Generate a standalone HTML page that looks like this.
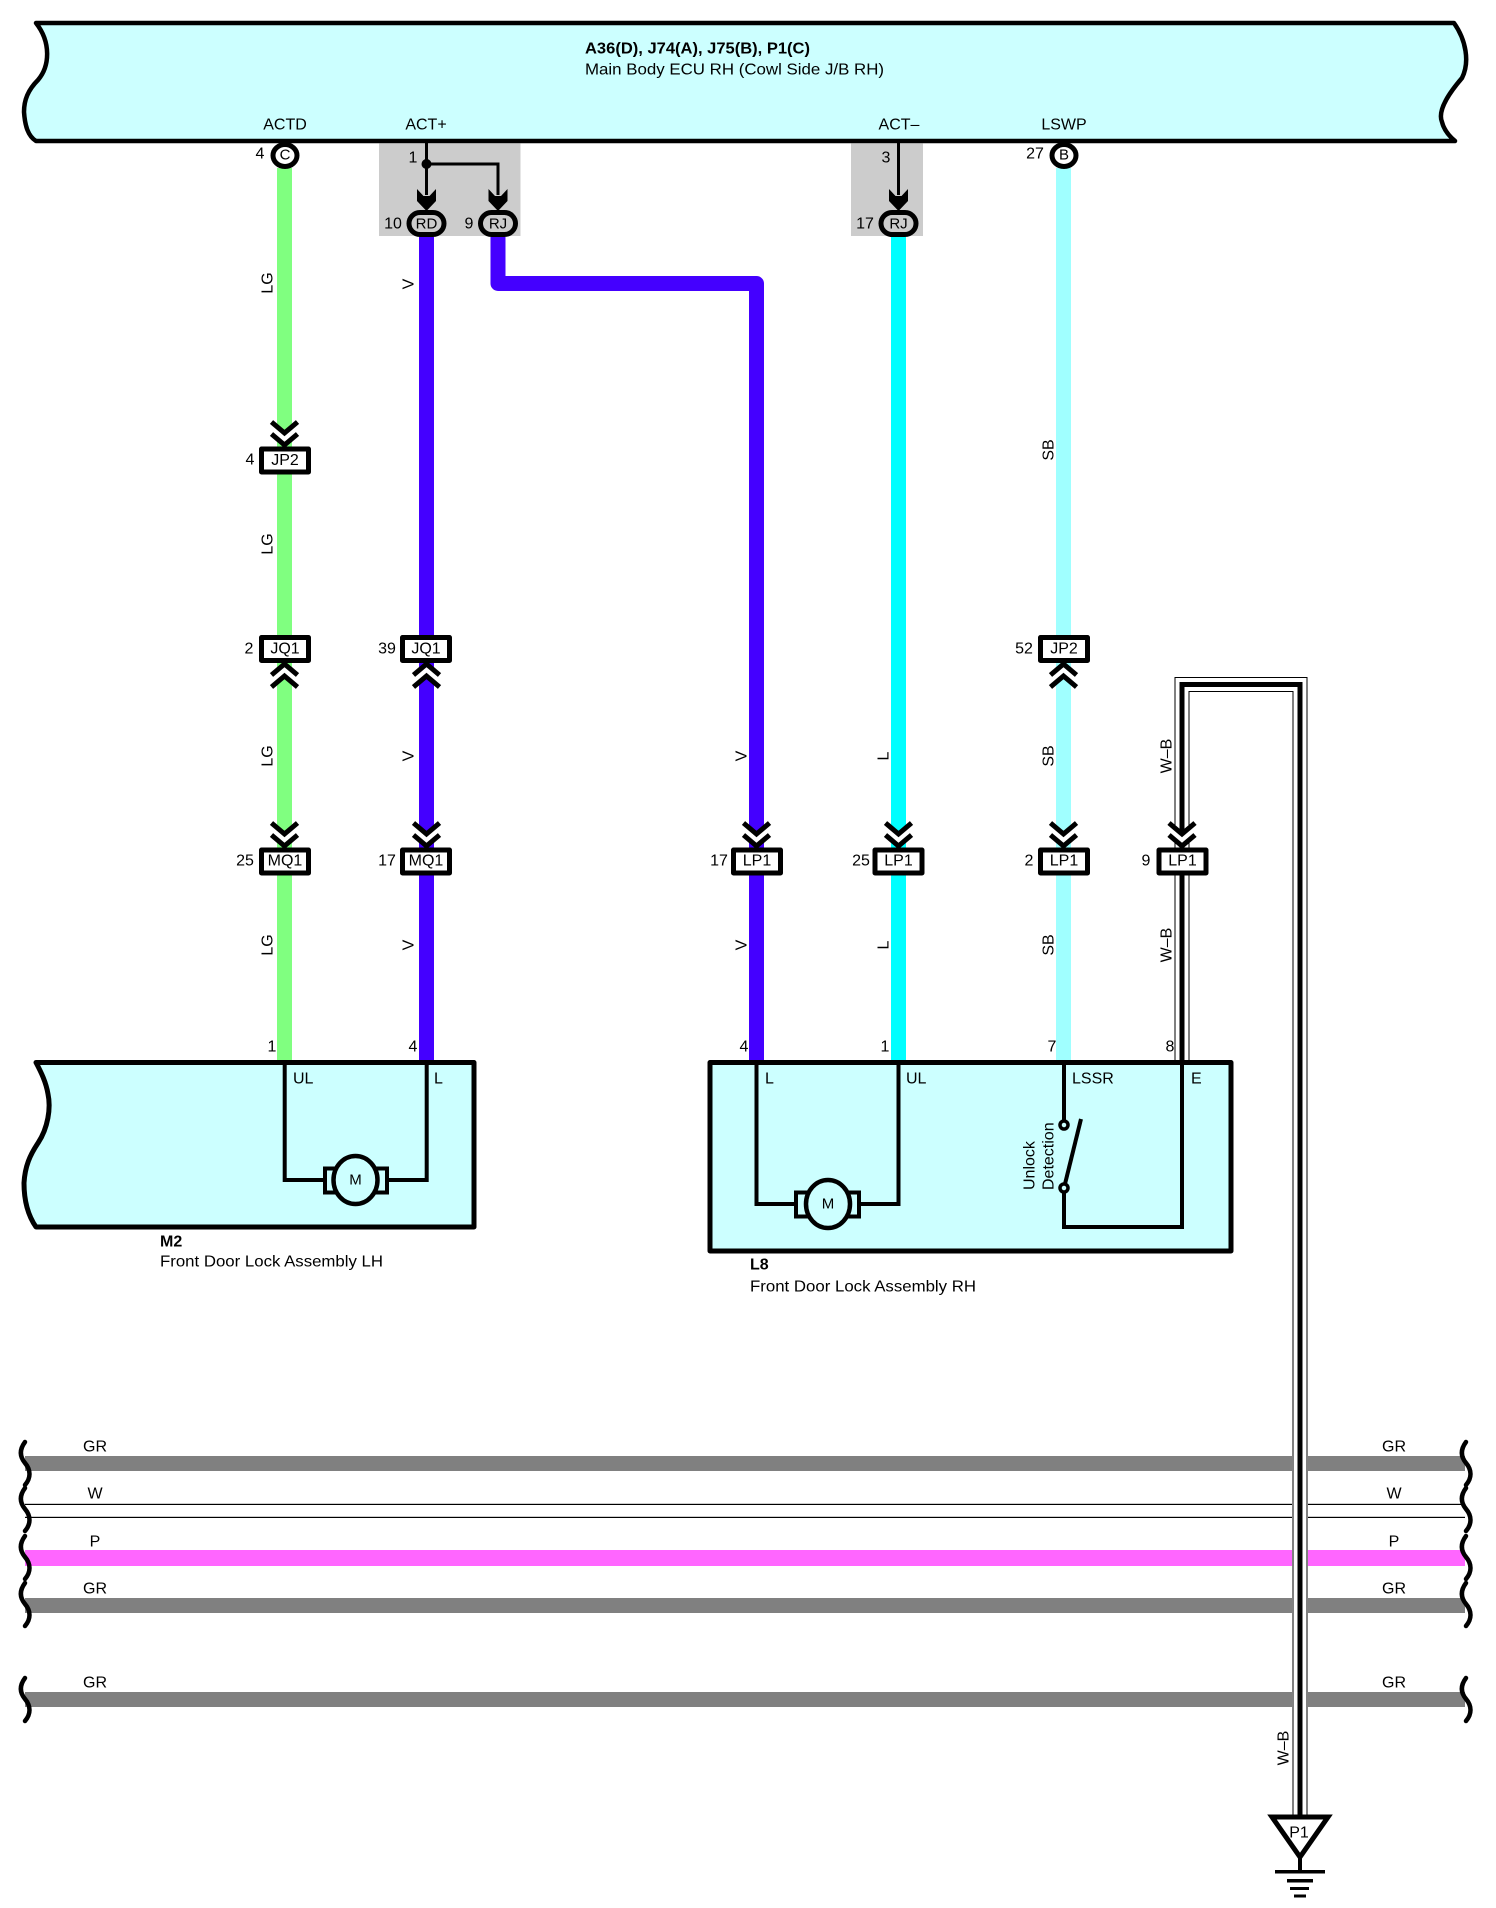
<!DOCTYPE html>
<html>
<head>
<meta charset="utf-8">
<style>
html,body{margin:0;padding:0;background:#fff}
svg{display:block}
text{font-family:"Liberation Sans",Arial,sans-serif;font-size:16px;fill:#000;dominant-baseline:central}
.m{text-anchor:middle}
.box{fill:#fff;stroke:#000;stroke-width:5;stroke-linejoin:round}
.w{fill:none;stroke:#000;stroke-width:4}
</style>
</head>
<body>
<svg xmlns="http://www.w3.org/2000/svg" width="1496" height="1908" viewBox="0 0 1496 1908">
<defs>
<g id="dn">
<polygon points="-13,-22 0,-11 13,-22 13,-11 0,0 -13,-11" fill="#fff"/>
<polyline points="-13,-24 0,-13 13,-24" fill="none" stroke="#000" stroke-width="5"/>
<polyline points="-13,-12 0,-1 13,-12" fill="none" stroke="#000" stroke-width="5"/>
</g>
<g id="up">
<polygon points="-13,22 0,11 13,22 13,11 0,0 -13,11" fill="#fff"/>
<polyline points="-13,24 0,13 13,24" fill="none" stroke="#000" stroke-width="5"/>
<polyline points="-13,12 0,1 13,12" fill="none" stroke="#000" stroke-width="5"/>
</g>
<polygon id="ar" points="-9.5,189 -3,196 3,196 9.5,189 9.5,201 0,211 -9.5,201" fill="#000"/>
<path id="br" d="M25 1442C19 1450 20 1457 25 1463C31 1470 31 1478 25 1485" fill="none" stroke="#000" stroke-width="4.5" stroke-linecap="round"/>
</defs>

<!-- ECU -->
<path d="M36 23H1454C1466 40 1470 62 1462 78C1450 92 1437 110 1442 122C1444 130 1449 136 1455 141H36C28 136 25 126 24 112C24 100 28 90 38 80C50 66 51 42 36 23Z" fill="#ccffff" stroke="#000" stroke-width="4.5" stroke-linejoin="round"/>
<text x="585" y="49" textLength="225" lengthAdjust="spacingAndGlyphs" style="font-weight:bold">A36(D), J74(A), J75(B), P1(C)</text>
<text x="585" y="70" textLength="299" lengthAdjust="spacingAndGlyphs">Main Body ECU RH (Cowl Side J/B RH)</text>
<text class="m" x="285" y="125">ACTD</text>
<text class="m" x="426" y="125">ACT+</text>
<text class="m" x="899" y="125">ACT–</text>
<text class="m" x="1064" y="125">LSWP</text>

<!-- grey boxes -->
<rect x="379" y="143.5" width="141.5" height="92.5" fill="#cccccc"/>
<rect x="851" y="143.5" width="72" height="92.5" fill="#cccccc"/>

<!-- vertical coloured wires -->
<rect x="277" y="168" width="15" height="894" fill="#80ff80"/>
<rect x="419" y="237" width="15" height="825" fill="#4400ff"/>
<path d="M498 237V283.5H756.5V1062" fill="none" stroke="#4400ff" stroke-width="15" stroke-linejoin="round"/>
<rect x="891" y="237" width="15" height="825" fill="#00ffff"/>
<rect x="1056" y="168" width="15" height="894" fill="#a0ffff"/>

<!-- horizontal wires -->
<rect x="25" y="1456" width="1267" height="15" fill="#808080"/>
<rect x="1308" y="1456" width="157" height="15" fill="#808080"/>
<rect x="25" y="1503.8" width="1267" height="1.2" fill="#000"/>
<rect x="1308" y="1503.8" width="157" height="1.2" fill="#000"/>
<rect x="25" y="1516.8" width="1267" height="1.2" fill="#000"/>
<rect x="1308" y="1516.8" width="157" height="1.2" fill="#000"/>
<rect x="25" y="1550" width="1267" height="16" fill="#ff66ff"/>
<rect x="1308" y="1550" width="157" height="16" fill="#ff66ff"/>
<rect x="25" y="1598" width="1267" height="15" fill="#808080"/>
<rect x="1308" y="1598" width="157" height="15" fill="#808080"/>
<rect x="25" y="1692" width="1267" height="15" fill="#808080"/>
<rect x="1308" y="1692" width="157" height="15" fill="#808080"/>

<!-- braces left -->
<use href="#br"/>
<use href="#br" y="46"/>
<use href="#br" y="94"/>
<use href="#br" y="141"/>
<use href="#br" y="236"/>
<!-- braces right -->
<use href="#br" x="1441"/>
<use href="#br" x="1441" y="46"/>
<use href="#br" x="1441" y="94"/>
<use href="#br" x="1441" y="141"/>
<use href="#br" x="1441" y="236"/>

<text class="m" x="95" y="1447">GR</text>
<text class="m" x="95" y="1494">W</text>
<text class="m" x="95" y="1542">P</text>
<text class="m" x="95" y="1589">GR</text>
<text class="m" x="95" y="1683">GR</text>
<text class="m" x="1394" y="1447">GR</text>
<text class="m" x="1394" y="1494">W</text>
<text class="m" x="1394" y="1542">P</text>
<text class="m" x="1394" y="1589">GR</text>
<text class="m" x="1394" y="1683">GR</text>

<!-- W-B shielded wire -->
<path d="M1182 1062V684.5H1300V1817" fill="none" stroke="#000" stroke-width="15"/>
<path d="M1182 1062V684.5H1300V1817" fill="none" stroke="#fff" stroke-width="13"/>
<path d="M1182 1062V684.5H1300V1817" fill="none" stroke="#000" stroke-width="5"/>

<!-- ground P1 -->
<polygon points="1272,1817 1328,1817 1300,1857" fill="#fff" stroke="#000" stroke-width="5" stroke-linejoin="miter"/>
<text class="m" x="1299" y="1833">P1</text>
<rect x="1298" y="1858" width="4" height="14" fill="#000"/>
<rect x="1275" y="1870" width="50" height="3.5" fill="#000"/>
<rect x="1287" y="1879" width="26" height="3.5" fill="#000"/>
<rect x="1290" y="1887" width="19" height="3" fill="#000"/>
<rect x="1294" y="1894.5" width="12" height="3" fill="#000"/>

<!-- pins -->
<ellipse cx="285" cy="155.5" rx="12" ry="11" fill="#fff" stroke="#000" stroke-width="5"/>
<text class="m" x="285" y="155" style="font-size:15px">C</text>
<text class="m" x="260" y="154">4</text>
<ellipse cx="1064" cy="155.5" rx="12" ry="11" fill="#fff" stroke="#000" stroke-width="5"/>
<text class="m" x="1064" y="155" style="font-size:15px">B</text>
<text class="m" x="1035" y="154">27</text>

<!-- ACT+ internal -->
<path d="M426.5 143V195M426.5 164H498V195" fill="none" stroke="#000" stroke-width="3"/>
<circle cx="426.5" cy="164" r="5" fill="#000"/>
<use href="#ar" x="426.5"/>
<use href="#ar" x="498"/>
<text class="m" x="413" y="158">1</text>
<rect x="409" y="212.5" width="35" height="22" rx="11" fill="#cccccc" stroke="#000" stroke-width="5"/>
<text class="m" x="426.5" y="224" style="font-size:15px">RD</text>
<text class="m" x="393" y="224">10</text>
<rect x="480.5" y="212.5" width="35" height="22" rx="11" fill="#cccccc" stroke="#000" stroke-width="5"/>
<text class="m" x="498" y="224" style="font-size:15px">RJ</text>
<text class="m" x="469" y="224">9</text>

<!-- ACT- internal -->
<path d="M898.5 143V195" fill="none" stroke="#000" stroke-width="3"/>
<use href="#ar" x="898.5"/>
<text class="m" x="886" y="158">3</text>
<rect x="881" y="212.5" width="35" height="22" rx="11" fill="#cccccc" stroke="#000" stroke-width="5"/>
<text class="m" x="898.5" y="224" style="font-size:15px">RJ</text>
<text class="m" x="865" y="224">17</text>

<!-- chevrons -->
<use href="#dn" x="284.5" y="446"/>
<use href="#up" x="284.5" y="663"/>
<use href="#up" x="426.5" y="663"/>
<use href="#up" x="1063.5" y="663"/>
<use href="#dn" x="284.5" y="847"/>
<use href="#dn" x="426.5" y="847"/>
<use href="#dn" x="756.5" y="847"/>
<use href="#dn" x="898.5" y="847"/>
<use href="#dn" x="1063.5" y="847"/>
<use href="#dn" x="1182" y="847"/>

<!-- connectors -->
<rect class="box" x="261.5" y="449" width="47" height="23"/>
<text class="m" x="285" y="460.5">JP2</text>
<text class="m" x="250" y="460">4</text>

<rect class="box" x="261.5" y="637.5" width="47" height="23"/>
<text class="m" x="285" y="649">JQ1</text>
<text class="m" x="249" y="649">2</text>
<rect class="box" x="402.5" y="637.5" width="47" height="23"/>
<text class="m" x="426" y="649">JQ1</text>
<text class="m" x="387" y="649">39</text>
<rect class="box" x="1040.5" y="637.5" width="47" height="23"/>
<text class="m" x="1064" y="649">JP2</text>
<text class="m" x="1024" y="649">52</text>

<rect class="box" x="261.5" y="850" width="47" height="23"/>
<text class="m" x="285" y="861">MQ1</text>
<text class="m" x="245" y="861">25</text>
<rect class="box" x="402.5" y="850" width="47" height="23"/>
<text class="m" x="426" y="861">MQ1</text>
<text class="m" x="387" y="861">17</text>
<rect class="box" x="733.5" y="850" width="47" height="23"/>
<text class="m" x="757" y="861">LP1</text>
<text class="m" x="719" y="861">17</text>
<rect class="box" x="875" y="850" width="47" height="23"/>
<text class="m" x="898.5" y="861">LP1</text>
<text class="m" x="861" y="861">25</text>
<rect class="box" x="1040.5" y="850" width="47" height="23"/>
<text class="m" x="1064" y="861">LP1</text>
<text class="m" x="1029" y="861">2</text>
<rect class="box" x="1159" y="850" width="47" height="23"/>
<text class="m" x="1182.5" y="861">LP1</text>
<text class="m" x="1146" y="861">9</text>

<!-- wire labels -->
<text class="m" transform="translate(268 283) rotate(-90)">LG</text>
<text class="m" transform="translate(268 544) rotate(-90)">LG</text>
<text class="m" transform="translate(268 756) rotate(-90)">LG</text>
<text class="m" transform="translate(268 945) rotate(-90)">LG</text>
<text class="m" transform="translate(409 284) rotate(-90)">V</text>
<text class="m" transform="translate(409 756) rotate(-90)">V</text>
<text class="m" transform="translate(409 945) rotate(-90)">V</text>
<text class="m" transform="translate(742 756) rotate(-90)">V</text>
<text class="m" transform="translate(742 945) rotate(-90)">V</text>
<text class="m" transform="translate(884 756) rotate(-90)">L</text>
<text class="m" transform="translate(884 945) rotate(-90)">L</text>
<text class="m" transform="translate(1049 450) rotate(-90)">SB</text>
<text class="m" transform="translate(1049 756) rotate(-90)">SB</text>
<text class="m" transform="translate(1049 945) rotate(-90)">SB</text>
<text class="m" transform="translate(1167 756) rotate(-90)">W–B</text>
<text class="m" transform="translate(1167 945) rotate(-90)">W–B</text>
<text class="m" transform="translate(1284 1748) rotate(-90)">W–B</text>

<!-- M2 -->
<path d="M36 1062.5H474V1227H36C27 1214 24 1198 24 1183C25 1166 30 1155 38 1143C48 1128 51 1108 48 1094C46 1082 41 1072 36 1062.5Z" fill="#ccffff" stroke="#000" stroke-width="5" stroke-linejoin="round"/>
<path class="w" d="M284.7 1062V1180H330M426.7 1062V1180H382"/>
<rect x="325" y="1168.5" width="62" height="24" fill="#ccffff" stroke="#000" stroke-width="4"/>
<ellipse cx="355.5" cy="1180" rx="22" ry="24" fill="#ccffff" stroke="#000" stroke-width="4.5"/>
<text class="m" x="355.5" y="1180" style="font-size:15px">M</text>
<text class="m" x="272" y="1047">1</text>
<text class="m" x="413" y="1047">4</text>
<text x="293" y="1079">UL</text>
<text x="434" y="1079">L</text>
<text x="160" y="1242" style="font-weight:bold">M2</text>
<text x="160" y="1262" textLength="223" lengthAdjust="spacingAndGlyphs">Front Door Lock Assembly LH</text>

<!-- L8 -->
<rect x="710" y="1062.5" width="521" height="188.5" fill="#ccffff" stroke="#000" stroke-width="5" stroke-linejoin="round"/>
<path class="w" d="M756.5 1062V1204H800M898.5 1062V1204H855"/>
<rect x="796" y="1192.5" width="63" height="24" fill="#ccffff" stroke="#000" stroke-width="4"/>
<ellipse cx="828" cy="1204" rx="22" ry="24" fill="#ccffff" stroke="#000" stroke-width="4.5"/>
<text class="m" x="828" y="1204" style="font-size:15px">M</text>
<path class="w" d="M1064 1062V1121M1064 1193V1227H1182V1062"/>
<path d="M1064 1188L1081 1119" fill="none" stroke="#000" stroke-width="4"/>
<circle cx="1064" cy="1125" r="4" fill="#ccffff" stroke="#000" stroke-width="3.5"/>
<circle cx="1064" cy="1188" r="4" fill="#ccffff" stroke="#000" stroke-width="3.5"/>
<text transform="translate(1030 1190) rotate(-90)">Unlock</text>
<text transform="translate(1049 1190) rotate(-90)">Detection</text>
<text class="m" x="744" y="1047">4</text>
<text class="m" x="885" y="1047">1</text>
<text class="m" x="1052" y="1047">7</text>
<text class="m" x="1170" y="1047">8</text>
<text x="765" y="1079">L</text>
<text x="906" y="1079">UL</text>
<text x="1072" y="1079">LSSR</text>
<text x="1191" y="1079">E</text>
<text x="750" y="1265" style="font-weight:bold">L8</text>
<text x="750" y="1287" textLength="226" lengthAdjust="spacingAndGlyphs">Front Door Lock Assembly RH</text>
</svg>
</body>
</html>
